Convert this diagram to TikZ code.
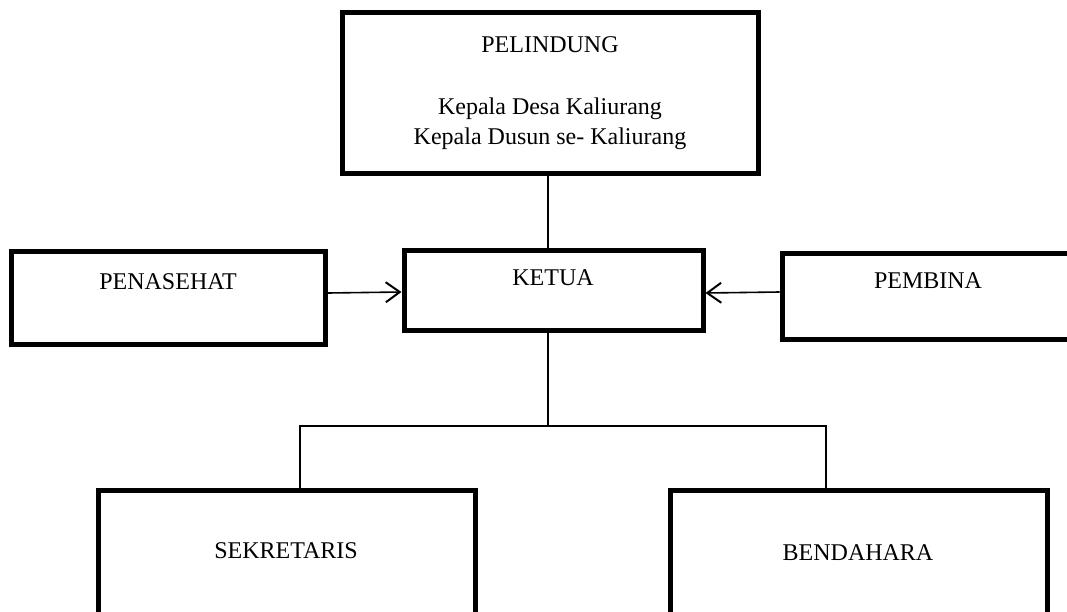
\documentclass[tikz,border=0pt]{standalone}
\usepackage{fontspec}
\setmainfont{Liberation Serif}
\usetikzlibrary{arrows.meta}
\begin{document}
\begin{tikzpicture}[x=1pt,y=-1pt,
  box/.style={draw,line width=5pt,inner sep=0pt},
  lbl/.style={inner sep=0pt,align=center,font=\fontsize{24}{30}\selectfont},
  conn/.style={line width=1.6pt},
  arr/.style={line width=1.6pt,-{Straight Barb[length=14pt,width=20pt,line width=2pt]}}]
\useasboundingbox (0,0) rectangle (1067,611);
\clip (0,0) rectangle (1067,611);
% boxes
\node[box,minimum width=416pt,minimum height=161pt] (pel) at (550,92.5) {};
\node[box,minimum width=299pt,minimum height=80pt] (ket) at (553.5,290) {};
\node[box,minimum width=314pt,minimum height=93pt] (pen) at (168,297.5) {};
\node[box,minimum width=320pt,minimum height=86pt] (pem) at (942,296) {};
\node[box,minimum width=377pt,minimum height=150pt] (sek) at (286.5,565) {};
\node[box,minimum width=377pt,minimum height=150pt] (ben) at (858.5,565) {};
% texts
\node[lbl] (tpel) at (550,45) {PELINDUNG};
\node[lbl] (tpel2) at (550,124) {Kepala Desa Kaliurang\\Kepala Dusun se- Kaliurang};
\node[lbl] (tket) at (553,278) {KETUA};
\node[lbl] (tpen) at (168,282) {PENASEHAT};
\node[lbl] (tpem) at (928,281) {PEMBINA};
\node[lbl] (tsek) at (286,551) {SEKRETARIS};
\node[lbl] (tben) at (858,553) {BENDAHARA};
% connectors
\draw[conn] ([xshift=-2pt]pel.south) -- ([xshift=-2pt]pel.south |- ket.north);
\coordinate (br) at (548,426);
\draw[conn] ([xshift=-5.5pt]ket.south) -- (br);
\draw[conn] ([xshift=13.5pt]sek.north) |- (br) -| ([xshift=-32.5pt]ben.north);
\draw[arr] ([yshift=4.5pt]pen.east) -- ([yshift=-2pt]ket.west);
\draw[arr] ([yshift=4pt]pem.west) -- ([yshift=-3pt]ket.east);
\end{tikzpicture}
\end{document}
